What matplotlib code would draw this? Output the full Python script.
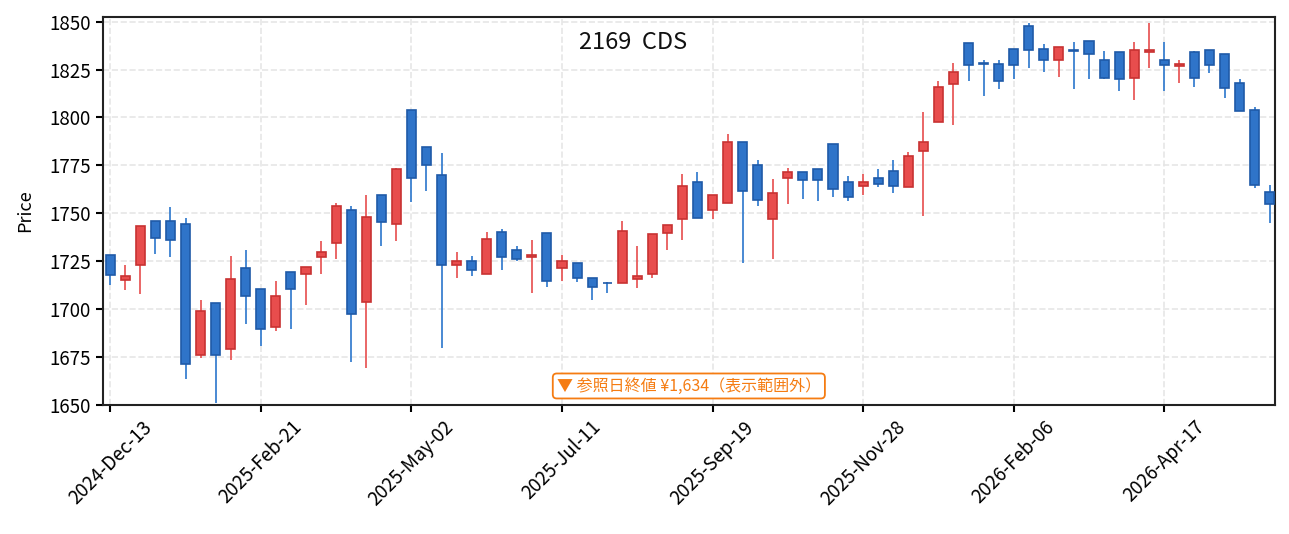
import numpy as np
import pandas as pd
import matplotlib
matplotlib.use("Agg")
import matplotlib.pyplot as plt

plt.rcParams['font.family'] = ['Noto Sans CJK JP', 'DejaVu Sans']

# weekly OHLC
opens = [1728, 1715, 1723, 1746, 1746, 1744.4, 1676, 1703.3, 1679, 1721.5,
         1710.6, 1690.6, 1719.4, 1718.2, 1727, 1734.4, 1751.7, 1703.6, 1759.5, 1744.3,
         1804, 1784.5, 1770, 1723, 1725.2, 1718.2, 1740.3, 1730.7, 1727, 1739.8,
         1721.4, 1724.1, 1716.3, 1713.8, 1713.4, 1715.6, 1718.2, 1739.8, 1746.9, 1766.3,
         1751.6, 1755.4, 1787.1, 1775.3, 1746.9, 1768.2, 1771.5, 1773.1, 1786.1, 1766.3,
         1764.1, 1768.4, 1772, 1763.5, 1782.7, 1797.8, 1817.5, 1838.7, 1828.3, 1828,
         1835.6, 1847.6, 1835.6, 1829.7, 1835.1, 1839.7, 1829.8, 1834, 1820.8, 1834.3,
         1829.8, 1826.6, 1834, 1835, 1833, 1817.9, 1803.8, 1761.1]
highs = [1728, 1723, 1743.5, 1746, 1753.5, 1747.8, 1704.7, 1703.3, 1727.6, 1730.7,
         1710.6, 1714.6, 1719.4, 1722, 1735.4, 1755.6, 1753.6, 1759.4, 1759.5, 1773.5,
         1804, 1784.5, 1781.4, 1729.9, 1727.8, 1740, 1742, 1732.8, 1736, 1739.8,
         1728.1, 1724.1, 1716.3, 1714.4, 1745.8, 1732.8, 1739.2, 1743.8, 1770.3, 1771.5,
         1759.4, 1791.5, 1787.1, 1778, 1768, 1773.8, 1771.5, 1773.1, 1786.1, 1769.3,
         1770.3, 1773, 1778, 1781.8, 1802.6, 1818.8, 1828.6, 1838.7, 1829.7, 1829.7,
         1835.6, 1849.3, 1838.4, 1836.6, 1839.6, 1839.7, 1834.9, 1834, 1839.6, 1849.3,
         1839.6, 1829.7, 1834.9, 1835, 1833, 1819.8, 1805.7, 1764.6]
lows = [1712.5, 1710, 1708, 1729, 1727, 1663.5, 1674.6, 1651.2, 1673.4, 1692.2,
        1681, 1688.7, 1689.8, 1702, 1718.4, 1726.2, 1672.6, 1669.5, 1733, 1735.6,
        1756, 1761.6, 1679.5, 1716.3, 1717.4, 1718.2, 1720.3, 1725.2, 1708.2, 1711.6,
        1714.6, 1713.9, 1704.7, 1708.2, 1713.4, 1710.8, 1716, 1730.7, 1736.3, 1747.5,
        1747, 1755.4, 1724.1, 1753.8, 1726.4, 1754.9, 1757.3, 1756.3, 1758.5, 1756.4,
        1759.7, 1763.7, 1760.8, 1763.5, 1748.6, 1797.8, 1796, 1818.9, 1811.1, 1814.7,
        1820, 1825.7, 1823.6, 1821, 1814.7, 1820, 1820, 1813.7, 1809, 1825.7,
        1813.7, 1817.9, 1815.8, 1823.1, 1810, 1803.6, 1763.4, 1745]
closes = [1718, 1717.5, 1743.5, 1737.3, 1736.3, 1671.4, 1699, 1676, 1715.8, 1706.6,
          1689.6, 1707, 1710.4, 1722, 1729.9, 1753.8, 1697.4, 1748, 1745.3, 1773,
          1768.6, 1775, 1722.9, 1725.2, 1720.3, 1736.8, 1727, 1725.9, 1728.3, 1714.6,
          1725.2, 1716.3, 1711.5, 1713.4, 1740.8, 1717.4, 1739.2, 1743.8, 1764.2, 1747.5,
          1759.4, 1787.1, 1761.5, 1757.1, 1760.8, 1771.5, 1767.2, 1767.2, 1762.5, 1758.3,
          1766.3, 1765.1, 1764.1, 1779.8, 1787.1, 1815.8, 1823.6, 1827.5, 1828, 1818.8,
          1827.6, 1835.4, 1829.7, 1836.6, 1834.9, 1833, 1820.8, 1819.8, 1835, 1835.1,
          1827.6, 1828, 1820.8, 1827.6, 1815.6, 1803.6, 1764.6, 1754.7]

dates = pd.date_range('2024-12-13', periods=len(opens), freq='7D')
title = '2169  CDS'
note = '▼ 参照日終値 ¥1,634（表示範囲外）'

o = np.array(opens)
h = np.array(highs)
l = np.array(lows)
c = np.array(closes)
x = np.arange(len(o))
up = c >= o

fig = plt.figure(figsize=(12.89, 5.34), dpi=100)
ax = fig.add_axes([0.0797, 0.2416, 0.9094, 0.7266])

wick_col = np.where(up, '#e85a5a', '#3a80d0')
face_col = np.where(up, '#e84d4d', '#2f74c9')
edge_col = np.where(up, '#c83232', '#1f5aa8')

ax.vlines(x, l, h, colors=wick_col, linewidth=1.3, zorder=2)
ax.bar(x, np.abs(c - o), bottom=np.minimum(o, c), width=0.6,
       color=face_col, edgecolor=edge_col, linewidth=1.2, zorder=3)

ax.set_xlim(-0.5, 77.35)
ax.set_ylim(1650, 1852.4)
ax.set_yticks(np.arange(1650, 1851, 25))
ticks = x[::10]
ax.set_xticks(ticks)
ax.set_xticklabels([dates[i].strftime('%Y-%b-%d') for i in ticks], rotation=45)
ax.tick_params(labelsize=13.5, length=5, width=1.5)
ax.set_ylabel('Price', fontsize=13, labelpad=11)
ax.grid(True, linestyle='--', color='#e6e6e6', linewidth=1.2, zorder=0)
ax.set_axisbelow(True)
for s in ax.spines.values():
    s.set_linewidth(1.5)
    s.set_color('#222222')

ax.text(0.452, 0.935, title, transform=ax.transAxes, ha='center', va='center',
        fontsize=17, color='#111111')
ax.text(0.5, 0.049, note, transform=ax.transAxes, ha='center', va='center',
        fontsize=11.5, color='#f57c12',
        bbox=dict(boxstyle='round,pad=0.25', facecolor='white',
                  edgecolor='#f57c12', linewidth=1.3))

fig.savefig('out.png', dpi=100)
